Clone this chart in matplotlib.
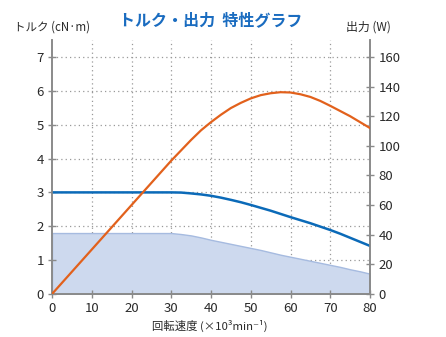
import matplotlib
matplotlib.use("Agg")
import matplotlib.pyplot as plt

plt.rcParams['font.family'] = ['Noto Sans CJK JP', 'DejaVu Sans']

speed = [0, 5, 10, 15, 20, 25, 30, 32.5, 35, 37.5, 40, 42.5, 45, 47.5, 50, 52.5, 55,
         57.5, 60, 62.5, 65, 67.5, 70, 72.5, 75, 77.5, 80]
torque = [3.0, 3.0, 3.0, 3.0, 3.0, 3.0, 3.0, 2.995, 2.97, 2.94, 2.9, 2.845, 2.78, 2.71, 2.63,
          2.545, 2.46, 2.365, 2.27, 2.18, 2.09, 1.99, 1.89, 1.78, 1.66, 1.54, 1.42]
power = [0, 15, 30, 45, 60, 75, 90, 97, 104, 110.5, 116, 121, 125.5, 129, 132, 134.2, 135.5,
         136.2, 136, 134.8, 133, 130.3, 127, 123.5, 120, 116, 112]
rated = [1.8, 1.8, 1.8, 1.8, 1.8, 1.8, 1.8, 1.77, 1.73, 1.67, 1.6, 1.54, 1.48, 1.42, 1.36,
         1.3, 1.23, 1.16, 1.1, 1.04, 0.98, 0.92, 0.86, 0.8, 0.73, 0.67, 0.6]

xticks = [0, 10, 20, 30, 40, 50, 60, 70, 80]
lticks = [0, 1, 2, 3, 4, 5, 6, 7]
rticks = [0, 20, 40, 60, 80, 100, 120, 140, 160]

title = "トルク・出力  特性グラフ"
left_label = "トルク (cN·m)"
right_label = "出力 (W)"
x_label = "回転速度 (×10³min⁻¹)"

fig = plt.figure(figsize=(4.46, 3.37), dpi=100)
ax = fig.add_axes([52/446, 43/337, 318/446, 254/337])
ax2 = ax.twinx()

spine_c = '#8a8a8a'
txt_c = '#2a2a2a'

ax.set_xlim(0, 80)
ax.set_ylim(0, 7.5)
ax2.set_ylim(0, 7.5 * 160 / 7)

for y in lticks[1:]:
    ax.axhline(y, color='#999999', lw=0.9, ls=(0, (1, 2.5)), zorder=0)
for x in xticks[1:-1]:
    ax.axvline(x, color='#999999', lw=0.9, ls=(0, (1, 2.5)), zorder=0)

ax.fill_between(speed, 0, rated, facecolor='#cdd9ee', edgecolor='#a6bbe0', lw=1.0, zorder=1)
ax.plot(speed, torque, color='#0b6ab8', lw=1.8, zorder=3)
ax2.plot(speed, power, color='#e2611c', lw=1.6, zorder=3)

for a in (ax, ax2):
    a.spines['top'].set_visible(False)
    for s in ('left', 'right', 'bottom'):
        a.spines[s].set_color(spine_c)
        a.spines[s].set_linewidth(1.2)
ax.set_xticks(xticks)
ax.set_yticks(lticks)
ax2.set_yticks(rticks)
ax.tick_params(axis='both', direction='inout', length=6, width=1, color=spine_c,
               labelsize=9.5, labelcolor=txt_c, pad=3)
ax2.tick_params(axis='y', direction='inout', length=6, width=1, color=spine_c,
                labelsize=9.5, labelcolor=txt_c, pad=3)

fig.text(211/446, 1 - 20/337, title, ha='center', va='center', fontsize=11.5,
         fontweight='bold', color='#1a6cc0')
fig.text(14/446, 1 - 27/337, left_label, ha='left', va='center', fontsize=8.3, color=txt_c)
fig.text(368/446, 1 - 27/337, right_label, ha='center', va='center', fontsize=8.6, color=txt_c)
fig.text(210/446, 1 - 326/337, x_label, ha='center', va='center', fontsize=8.2, color=txt_c)

fig.savefig('out.png', dpi=100)
